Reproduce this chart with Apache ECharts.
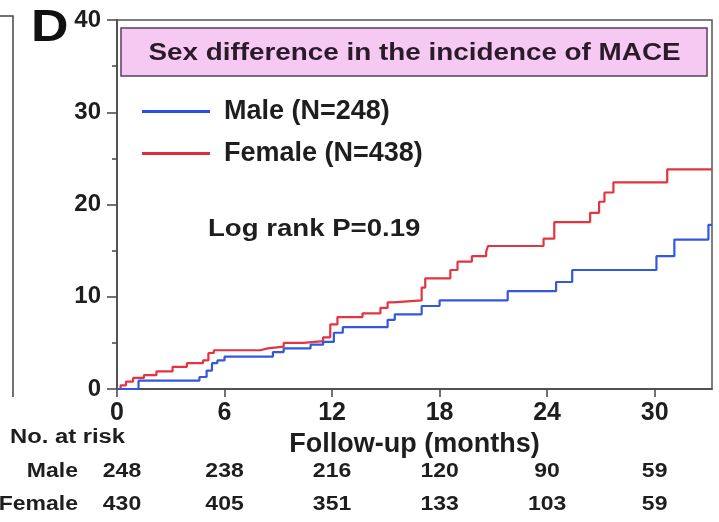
<!DOCTYPE html>
<html>
<head>
<meta charset="utf-8">
<script src="https://cdn.jsdelivr.net/npm/echarts@6/dist/echarts.min.js"></script>
<style>
html,body{margin:0;padding:0;background:#fff;}
#chart{width:719px;height:522px;}
</style>
</head>
<body>
<div id="chart"></div>
<script>
// Kaplan-Meier cumulative incidence (%) of MACE, step points [month, %]
const maleCurve = [[0,0],[1.2,0.9],[4.6,1.3],[5.0,2.0],[5.3,2.8],[5.6,3.1],[6.0,3.5],[8.7,4.0],[9.3,4.4],[10.8,4.8],[11.5,5.1],[12.1,6.1],[12.6,6.7],[15.1,7.5],[15.5,8.1],[17.0,9.0],[18.0,9.6],[21.8,10.6],[24.5,11.6],[25.4,12.9],[30.1,14.4],[31.1,16.2],[33.0,17.8],[33.2,17.8]];
const femaleCurve = [[0,0],[0.2,0.4],[0.5,0.8],[0.9,1.2],[1.5,1.5],[2.2,1.9],[3.1,2.4],[3.9,2.8],[4.8,3.1],[5.1,3.9],[5.4,4.2],[8.0,4.4],[8.4,4.6],[9.3,5.0],[10.4,5.2],[11.5,5.6],[11.9,7.0],[12.3,7.8],[13.7,8.2],[14.7,8.8],[15.1,9.4],[15.4,9.6],[17.0,11.0],[17.2,12.0],[18.6,12.9],[19.0,13.8],[19.8,14.4],[20.6,14.9],[20.7,15.5],[23.8,16.3],[24.4,18.1],[26.4,19.1],[26.9,20.3],[27.2,21.3],[27.7,22.4],[30.7,23.8],[33.2,23.8]];
const seriesNames = ['Male (N=248)', 'Female (N=438)'];
const riskTimes = [0, 6, 12, 18, 24, 30];
const riskMale = [248, 238, 216, 120, 90, 59];
const riskFemale = [430, 405, 351, 133, 103, 59];
const riskRowLabels = ['Male', 'Female'];
const xTicks = [0, 6, 12, 18, 24, 30];
const yTicks = [0, 10, 20, 30, 40];

const FONT = '"Liberation Sans", Arial, sans-serif';
const TXT = '#1e1e1e';
const chart = echarts.init(document.getElementById('chart'), null, {renderer: 'canvas'});

const option = {
  animation: false,
  backgroundColor: '#ffffff',
  grid: {left: 117, top: 20, right: 7, bottom: 133, show: true, borderColor: '#555', borderWidth: 1.5},
  xAxis: {
    type: 'value', min: 0, max: 33.2, interval: 6,
    axisLine: {lineStyle: {color: '#444', width: 1.5}},
    axisTick: {show: true, length: 8, lineStyle: {color: '#444', width: 1.5}},
    splitLine: {show: false},
    axisLabel: {
      color: TXT, fontFamily: FONT, fontWeight: 'bold', fontSize: 25, margin: 12,
      showMaxLabel: false,
      formatter: v => xTicks.includes(v) ? String(v) : ''
    },
    name: 'Follow-up (months)', nameLocation: 'middle', nameGap: 34,
    nameTextStyle: {color: TXT, fontFamily: FONT, fontWeight: 'bold', fontSize: 27}
  },
  yAxis: {
    type: 'value', min: 0, max: 40, interval: 10,
    axisLine: {show: true, lineStyle: {color: '#444', width: 1.5}},
    axisTick: {show: true, length: 10, lineStyle: {color: '#444', width: 1.5}},
    minorTick: {show: true, splitNumber: 2, length: 5, lineStyle: {color: '#444', width: 1.5}},
    splitLine: {show: false},
    axisLabel: {
      color: TXT, fontFamily: FONT, fontWeight: 'bold', fontSize: 24, margin: 16,
      formatter: v => yTicks.includes(v) ? String(v) : ''
    }
  },
  legend: {
    orient: 'vertical', left: 142, top: 98, padding: 0,
    icon: 'path://M0,0H68V3H0Z',
    itemWidth: 68, itemHeight: 3, itemGap: 15,
    data: seriesNames,
    textStyle: {color: TXT, fontFamily: FONT, fontWeight: 'bold', fontSize: 27, lineHeight: 26, padding: [0, 0, 0, 9]}
  },
  series: [
    {
      name: seriesNames[0], type: 'line', step: 'end', data: maleCurve,
      symbol: 'none', color: '#2a4ee6',
      lineStyle: {width: 2.2, color: '#3358e0'}, z: 3
    },
    {
      name: seriesNames[1], type: 'line', step: 'end', data: femaleCurve,
      symbol: 'none', color: '#e32a38',
      lineStyle: {width: 2.2, color: '#e3343f'}, z: 2
    }
  ]
};
chart.setOption(option);

function stretchedText(x, y, text, size, scaleX, align, fill) {
  return {
    type: 'group', x: x, y: y, scaleX: scaleX, z: 11,
    children: [{type: 'text', x: 0, y: 0, z: 11,
      style: {text: text, font: 'bold ' + size + 'px ' + FONT, fill: fill || TXT, textAlign: align, textVerticalAlign: 'middle'}}]
  };
}

// Annotations positioned through the chart's scales
const g = [];
const tl = chart.convertToPixel({gridIndex: 0}, [0, 40]);
const br = chart.convertToPixel({gridIndex: 0}, [33.2, 0]);

// Panel letter
g.push(stretchedText(31, 29, 'D', 44, 1.18, 'left', '#111'));
// Title box
g.push({type: 'rect', shape: {x: tl[0] + 4, y: tl[1] + 8, width: br[0] - tl[0] - 9, height: 48},
  style: {fill: '#f6c9f3', stroke: '#5a3f5a', lineWidth: 1.5}, z: 10});
g.push(stretchedText((tl[0] + br[0]) / 2, tl[1] + 33, 'Sex difference in the incidence of MACE', 24, 1.16, 'center', '#2a1a2a'));
// Log-rank text
g.push(stretchedText(208, 230, 'Log rank P=0.19', 23, 1.2, 'left'));
// Neighbouring panel frame fragment
g.push({type: 'polyline', shape: {points: [[0, 16], [13, 16], [13, 397]]}, style: {stroke: '#444', lineWidth: 1.5, fill: null}});

// Number at risk table
const baseY = br[1];
g.push(stretchedText(10, baseY + 48, 'No. at risk', 20, 1.19, 'left'));
const rows = [riskMale, riskFemale];
rows.forEach((row, ri) => {
  const y = baseY + 82 + ri * 33;
  g.push(stretchedText(78, y, riskRowLabels[ri], 20, 1.15, 'right'));
  row.forEach((n, i) => {
    const px = chart.convertToPixel({gridIndex: 0}, [riskTimes[i], 0])[0] + (i === 0 ? 5 : 0);
    g.push(stretchedText(px, y, String(n), 20, 1.15, 'center'));
  });
});
chart.setOption({graphic: g});
</script>
</body>
</html>
